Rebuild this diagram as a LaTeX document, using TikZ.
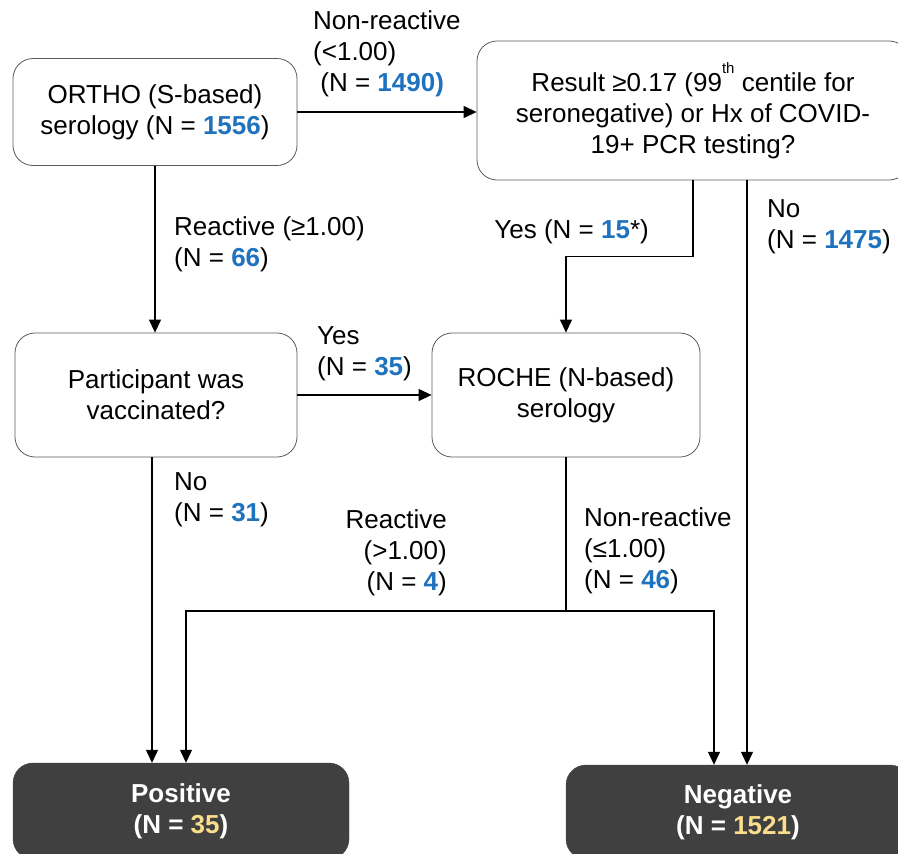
\documentclass[tikz,border=0pt]{standalone}
\usepackage{fontspec}
\setmainfont{Liberation Sans}
\usetikzlibrary{arrows.meta}

\definecolor{nblue}{RGB}{31,114,190}
\definecolor{nyellow}{RGB}{250,222,140}
\definecolor{boxdark}{RGB}{64,64,64}
\definecolor{boxline}{RGB}{90,90,90}

\newcommand{\numb}[1]{\textcolor{nblue}{\textbf{#1}}}
\newcommand{\numy}[1]{\textcolor{nyellow}{#1}}

\tikzset{
  decbox/.style={draw=boxline, line width=0.8pt, rounded corners=20pt, align=center},
  endbox/.style={fill=boxdark, draw=boxdark, rounded corners=20pt, align=center,
                 text=white, font=\fontsize{26pt}{31pt}\selectfont\bfseries},
  lbl/.style={inner sep=0pt},
  flow/.style={line width=1.2pt, -{Triangle[length=13pt,width=12pt]}}
}

\begin{document}
\begin{tikzpicture}[x=1pt, y=-1pt, font=\fontsize{26pt}{31pt}\selectfont]
  \clip (0,0) rectangle (898,854);

  \node[decbox, minimum width=284pt, minimum height=107pt] (ortho) at (155,112)
        {ORTHO (S-based)\\serology (N = \numb{1556})};
  \node[decbox, minimum width=432pt, minimum height=139pt] (result) at (693,110.5)
        {Result ≥0.17 (99\raisebox{18pt}{\fontsize{15pt}{15pt}\selectfont th} centile for\\seronegative) or Hx of COVID-\\19+ PCR testing?};
  \node[decbox, minimum width=282pt, minimum height=124pt] (vacc) at (156,395)
        {Participant was\\vaccinated?};
  \node[decbox, minimum width=268pt, minimum height=124pt] (roche) at (566,395)
        {ROCHE (N-based)\\serology};
  \node[endbox, minimum width=336pt, minimum height=96pt] (pos) at (181,811)
        {Positive\\(N = \numy{35})};
  \node[endbox, minimum width=344pt, minimum height=94pt] (neg) at (738,812)
        {Negative\\(N = \numy{1521})};

  % labels
  \node[lbl, anchor=north west, align=left] (lnr) at (313,10)
        {Non-reactive\\(<1.00)\\\ (N = \numb{1490)}};
  \node[lbl, anchor=north west, align=left] (lre) at (174,216)
        {Reactive (≥1.00)\\(N = \numb{66})};
  \node[lbl, anchor=base east] (lyes) at (649,238)
        {Yes (N = \numb{15}*)};
  \node[lbl, anchor=north west, align=left] (lno) at (767,199)
        {No\\(N = \numb{1475})};
  \node[lbl, anchor=north west, align=left] (lyv) at (317,326)
        {Yes\\(N = \numb{35})};
  \node[lbl, anchor=north west, align=left] (lnv) at (174,472)
        {No\\(N = \numb{31})};
  \node[lbl, anchor=north east, align=right] (lrr) at (447,509)
        {Reactive\\(>1.00)\\(N = \numb{4})};
  \node[lbl, anchor=north west, align=left] (lrn) at (584,507)
        {Non-reactive\\(≤1.00)\\(N = \numb{46})};

  % connectors
  \draw[flow] (ortho.east) -- (ortho.east -| result.west);
  \draw[flow] (ortho.south) -- (ortho.south |- vacc.north);
  \draw[flow] (result.south) -- ++(0,76) -| (roche.north);
  \draw[flow] ([xshift=54pt]result.south) -- ([xshift=54pt]result.south |- neg.north);
  \draw[flow] (vacc.east) -- (roche.west);
  \draw[flow] ([xshift=-4pt]vacc.south) -- ([xshift=-4pt]vacc.south |- pos.north);

  \coordinate (split) at (roche.south |- 0,611);
  \draw[line width=1.2pt] (roche.south) -- (split);
  \draw[flow] (split) -| ([xshift=5pt]pos.north);
  \draw[flow] (split) -| ([xshift=-24pt]neg.north);
\end{tikzpicture}
\end{document}
